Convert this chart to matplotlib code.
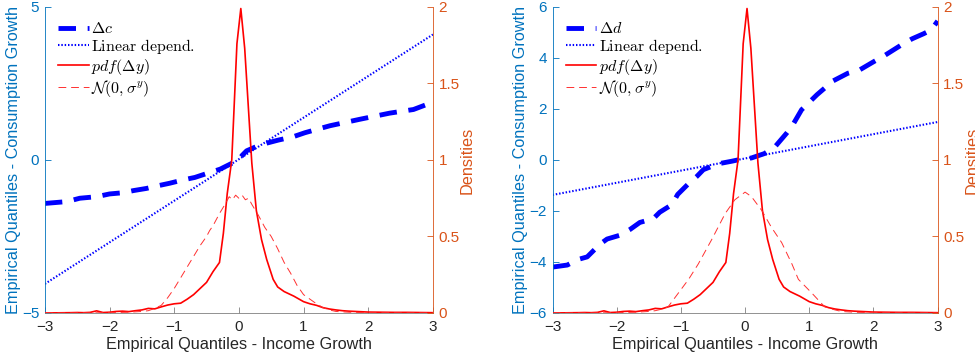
import matplotlib
matplotlib.use("Agg")
import matplotlib.pyplot as plt

plt.rcParams["font.family"] = ["Liberation Sans", "DejaVu Sans"]
plt.rcParams["mathtext.fontset"] = "cm"

BLUE_AX = "#0072BD"
ORANGE_AX = "#D95319"
GREY = "#808080"
TXT = "#262626"

# ---- data ----
# income growth grid for the densities (shared by both panels)
dens_x = [-3.0, -2.8, -2.6, -2.5, -2.4, -2.3, -2.2, -2.1, -2.0, -1.9, -1.8, -1.7,
          -1.6, -1.5, -1.4, -1.3, -1.2, -1.1, -1.0, -0.9, -0.8, -0.7, -0.6, -0.5,
          -0.4, -0.3, -0.24, -0.18, -0.11, -0.03, 0.03, 0.09, 0.2, 0.27, 0.35,
          0.43, 0.53, 0.6, 0.7, 0.85, 1.0, 1.1, 1.2, 1.3, 1.4, 1.5, 1.6, 1.7, 1.8,
          1.9, 2.0, 2.2, 2.4, 2.6, 2.8, 3.0]
pdf_dy = [0.0, 0.001, 0.002, 0.003, 0.002, 0.004, 0.014, 0.003, 0.005, 0.01,
          0.012, 0.009, 0.015, 0.02, 0.03, 0.027, 0.04, 0.052, 0.06, 0.064, 0.09,
          0.12, 0.16, 0.2, 0.27, 0.33, 0.52, 0.78, 1.0, 1.76, 1.99, 1.73, 0.98,
          0.67, 0.48, 0.35, 0.22, 0.17, 0.14, 0.11, 0.074, 0.06, 0.05, 0.035,
          0.026, 0.02, 0.015, 0.012, 0.01, 0.008, 0.006, 0.005, 0.004, 0.004,
          0.003, 0.002]

norm_x_l = [-3.0, -2.5, -2.0, -1.7, -1.5, -1.4, -1.3, -1.2, -1.1, -1.0, -0.9,
            -0.8, -0.7, -0.6, -0.5, -0.45, -0.4, -0.3, -0.2, -0.15, -0.1, -0.05,
            0.0, 0.05, 0.1, 0.15, 0.2, 0.3, 0.35, 0.4, 0.5, 0.6, 0.7, 0.8, 0.9,
            1.0, 1.1, 1.2, 1.3, 1.4, 1.5, 1.7, 2.0, 2.5, 3.0]
norm_l = [0.0, 0.0, 0.002, 0.005, 0.01, 0.015, 0.03, 0.05, 0.1, 0.16, 0.23, 0.3,
          0.37, 0.44, 0.5, 0.54, 0.57, 0.65, 0.72, 0.76, 0.74, 0.77, 0.75, 0.77,
          0.74, 0.75, 0.71, 0.64, 0.6, 0.56, 0.5, 0.42, 0.33, 0.26, 0.18, 0.12,
          0.09, 0.06, 0.035, 0.02, 0.01, 0.005, 0.002, 0.0, 0.0]

norm_x_r = [-3.0, -2.5, -2.0, -1.7, -1.5, -1.4, -1.3, -1.2, -1.04, -0.88, -0.73,
            -0.52, -0.31, -0.16, 0.0, 0.1, 0.26, 0.41, 0.57, 0.73, 0.83, 1.04,
            1.24, 1.4, 1.5, 1.7, 2.0, 2.5, 3.0]
norm_r = [0.0, 0.0, 0.002, 0.005, 0.01, 0.015, 0.025, 0.04, 0.13, 0.22, 0.32,
          0.48, 0.65, 0.74, 0.79, 0.76, 0.67, 0.56, 0.46, 0.32, 0.22, 0.13, 0.04,
          0.02, 0.01, 0.005, 0.002, 0.0, 0.0]

# consumption quantiles vs income quantiles
dc_x = [-3.0, -2.66, -2.46, -2.2, -2.0, -1.79, -1.63, -1.43, -1.27, -1.07, -0.86,
        -0.68, -0.48, -0.29, -0.11, 0.0, 0.05, 0.12, 0.25, 0.43, 0.61, 0.84, 1.02,
        1.17, 1.41, 1.87, 2.33, 2.7, 2.95, 3.0]
dc_q = [-1.42, -1.36, -1.25, -1.2, -1.11, -1.07, -1.0, -0.93, -0.85, -0.76, -0.65,
        -0.57, -0.43, -0.3, -0.11, 0.0, 0.15, 0.3, 0.42, 0.55, 0.65, 0.76, 0.89,
        0.98, 1.12, 1.33, 1.53, 1.65, 1.85, 1.9]
lin_c_x = [-3.0, 3.0]
lin_c = [-4.05, 4.1]

dd_x = [-3.0, -2.77, -2.6, -2.46, -2.26, -2.15, -1.95, -1.79, -1.64, -1.43, -1.33,
        -1.14, -1.05, -0.89, -0.75, -0.65, -0.42, -0.21, -0.08, 0.1, 0.3, 0.47,
        0.65, 0.73, 0.88, 1.12, 1.37, 1.6, 1.79, 2.0, 2.15, 2.44, 2.6, 2.78, 2.9,
        3.0]
dd_q = [-4.2, -4.12, -3.9, -3.8, -3.3, -3.1, -2.95, -2.72, -2.45, -2.3, -2.05,
        -1.75, -1.35, -0.95, -0.64, -0.38, -0.15, -0.05, 0.02, 0.08, 0.25, 0.53,
        1.06, 1.32, 1.97, 2.56, 3.1, 3.4, 3.54, 3.85, 4.06, 4.52, 4.75, 4.95, 5.1,
        5.45]
lin_d_x = [-3.0, 3.0]
lin_d = [-1.37, 1.49]

x_ticks = [-3, -2, -1, 0, 1, 2, 3]
dens_ticks = [0, 0.5, 1, 1.5, 2]

panels = [
    dict(qx=dc_x, q=dc_q, lx=lin_c_x, l=lin_c, nx=norm_x_l, n=norm_l,
         name=r"$\Delta c$", ylim=(-5, 5), yticks=[-5, 0, 5],
         rect=[0.046, 0.1306, 0.398, 0.85]),
    dict(qx=dd_x, q=dd_q, lx=lin_d_x, l=lin_d, nx=norm_x_r, n=norm_r,
         name=r"$\Delta d$", ylim=(-6, 6), yticks=[-6, -4, -2, 0, 2, 4, 6],
         rect=[0.5667, 0.1306, 0.395, 0.85]),
]

fig = plt.figure(figsize=(9.75, 3.6), dpi=100)

for p in panels:
    ax = fig.add_axes(p["rect"])
    ax2 = ax.twinx()

    h1, = ax.plot(p["qx"], p["q"], color="blue", lw=3.5, ls=(0, (3.6, 2.4)),
                  label=p["name"])
    h2, = ax.plot(p["lx"], p["l"], color="blue", lw=1.5, ls=(0, (0.7, 0.9)),
                  label=r"$\mathrm{Linear\ depend.}$")
    h3, = ax2.plot(dens_x, pdf_dy, color="red", lw=1.2, label=r"$pdf(\Delta y)$")
    h4, = ax2.plot(p["nx"], p["n"], color="#ff3030", lw=0.7, ls=(0, (8, 5)),
                   label=r"$\mathcal{N}(0,\sigma^y)$")

    ax.set_xlim(-3, 3)
    ax.set_ylim(*p["ylim"])
    ax.set_xticks(x_ticks)
    ax.set_yticks(p["yticks"])
    ax2.set_ylim(0, 2)
    ax2.set_yticks(dens_ticks)
    ax2.set_yticklabels(["0", "0.5", "1", "1.5", "2"])

    for a in (ax, ax2):
        a.spines["top"].set_visible(False)
    ax.spines["right"].set_visible(False)
    ax2.spines["left"].set_visible(False)
    ax2.spines["bottom"].set_visible(False)
    ax.spines["left"].set_color(BLUE_AX)
    ax.spines["bottom"].set_color(GREY)
    ax2.spines["right"].set_color(ORANGE_AX)
    for s in ("left", "bottom"):
        ax.spines[s].set_linewidth(0.6)
    ax2.spines["right"].set_linewidth(0.6)

    ax.tick_params(axis="x", direction="in", length=4, width=0.6, colors=GREY,
                   labelcolor=TXT, labelsize=11, pad=5)
    ax.tick_params(axis="y", direction="in", length=4, width=0.6, colors=BLUE_AX,
                   labelsize=11, pad=4)
    ax2.tick_params(axis="y", direction="in", length=4, width=0.6, colors=ORANGE_AX,
                    labelsize=11, pad=4)

    ax.set_xlabel("Empirical Quantiles - Income Growth", fontsize=11.7, color=TXT,
                  labelpad=2)
    ax.set_ylabel("Empirical Quantiles - Consumption Growth", fontsize=11.7,
                  color=BLUE_AX, labelpad=1)
    ax2.set_ylabel("Densities", fontsize=11.7, color=ORANGE_AX, labelpad=0)

    leg = ax2.legend(handles=[h1, h2, h3, h4], loc="upper left", frameon=False,
                     fontsize=11.5, handlelength=1.9, handletextpad=0.15,
                     labelspacing=0.05, borderaxespad=0.2,
                     bbox_to_anchor=(0.01, 0.985))

fig.savefig("out.png", dpi=100)
